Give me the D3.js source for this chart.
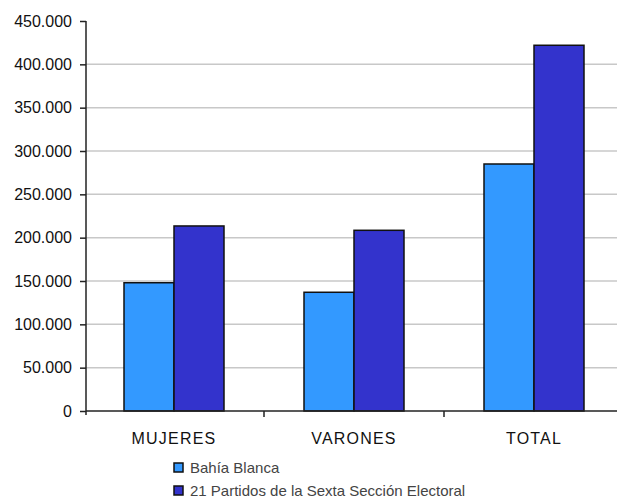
<!DOCTYPE html>
<html>
<head>
<meta charset="utf-8">
<script src="https://cdn.jsdelivr.net/npm/d3@7"></script>
<style>
  html, body { margin: 0; padding: 0; background: #fff; }
  svg { display: block; }
  text { font-family: "Liberation Sans", Arial, sans-serif; }
</style>
</head>
<body>
<svg id="chart" width="617" height="503"></svg>
<script>
// Población por sexo
const categories = ["MUJERES", "VARONES", "TOTAL"];
const seriesNames = ["Bahía Blanca", "21 Partidos de la Sexta Sección Electoral"];
const bahiaBlanca = [148000, 137000, 285000];
const sextaSeccion = [213500, 208500, 422000];
const yTicks = [0, 50000, 100000, 150000, 200000, 250000, 300000, 350000, 400000, 450000];
const colors = ["#3399ff", "#3333cc"];

const svg = d3.select("#chart");
const W = 617, H = 503;
const axisX = 86, y0 = 411, yTop = 21;

const locale = d3.formatLocale({ decimal: ",", thousands: ".", grouping: [3], currency: ["$", ""] });
const fmt = locale.format(",d");

const y = d3.scaleLinear().domain([0, 450000]).range([y0, yTop]);
const x = d3.scaleBand().domain(categories).range([84, 624]).paddingInner(0).paddingOuter(0);
const xs = d3.scaleBand().domain(seriesNames).range([0, 100]);

const plot = svg.append("g");

// horizontal gridlines
plot.append("g").selectAll("line")
  .data(yTicks.filter(d => d > 0 && d < 450000))
  .join("line")
  .attr("x1", axisX).attr("x2", W)
  .attr("y1", d => y(d)).attr("y2", d => y(d))
  .attr("stroke", "#c8c8c8").attr("stroke-width", 1.5);

// bars
const rows = categories.map((c, i) => ({ cat: c, vals: [bahiaBlanca[i], sextaSeccion[i]] }));
const groups = plot.append("g").selectAll("g")
  .data(rows).join("g")
  .attr("transform", d => `translate(${x(d.cat) + x.bandwidth() / 2 - 50},0)`);
groups.selectAll("rect")
  .data(d => d.vals.map((v, k) => ({ v, k })))
  .join("rect")
  .attr("x", d => xs(seriesNames[d.k]))
  .attr("width", xs.bandwidth())
  .attr("y", d => y(d.v))
  .attr("height", d => y0 - y(d.v))
  .attr("fill", d => colors[d.k])
  .attr("stroke", "#111").attr("stroke-width", 1.5);

// y axis
const yAxis = d3.axisLeft(y).tickValues(yTicks).tickFormat(fmt).tickSize(6).tickPadding(8);
const gy = svg.append("g").attr("transform", `translate(${axisX},0)`).call(yAxis);
gy.select(".domain").attr("stroke", "#222").attr("stroke-width", 1.5).attr("d", `M0,${yTop}V${y0 + 4}`);
gy.selectAll(".tick line").attr("stroke", "#222").attr("stroke-width", 1.5);
gy.selectAll(".tick text").attr("font-size", 16).attr("fill", "#111")
  .attr("font-family", "Liberation Sans, Arial, sans-serif");

// x axis
const xAxis = d3.axisBottom(x).tickSize(0).tickPadding(22);
const gx = svg.append("g").attr("transform", `translate(0,${y0})`).call(xAxis);
gx.select(".domain").attr("stroke", "#222").attr("stroke-width", 1.5).attr("d", `M${axisX},0H${W}`);
gx.selectAll(".tick text").attr("font-size", 16).attr("fill", "#111")
  .attr("letter-spacing", 1.2)
  .attr("font-family", "Liberation Sans, Arial, sans-serif");
// category separators below the axis
gx.append("g").selectAll("line")
  .data(categories.slice(1))
  .join("line")
  .attr("x1", d => x(d)).attr("x2", d => x(d))
  .attr("y1", 0).attr("y2", 6)
  .attr("stroke", "#222").attr("stroke-width", 1.5);

// legend
const legend = svg.append("g").attr("transform", "translate(174,462)");
const items = legend.selectAll("g").data(seriesNames).join("g")
  .attr("transform", (d, i) => `translate(0,${i * 23})`);
items.append("rect")
  .attr("x", 0).attr("y", 1).attr("width", 9).attr("height", 9)
  .attr("fill", (d, i) => colors[i]).attr("stroke", "#111").attr("stroke-width", 1.5);
items.append("text")
  .attr("x", 16).attr("y", 11)
  .attr("font-size", 15).attr("fill", "#444")
  .text(d => d);
</script>
</body>
</html>
